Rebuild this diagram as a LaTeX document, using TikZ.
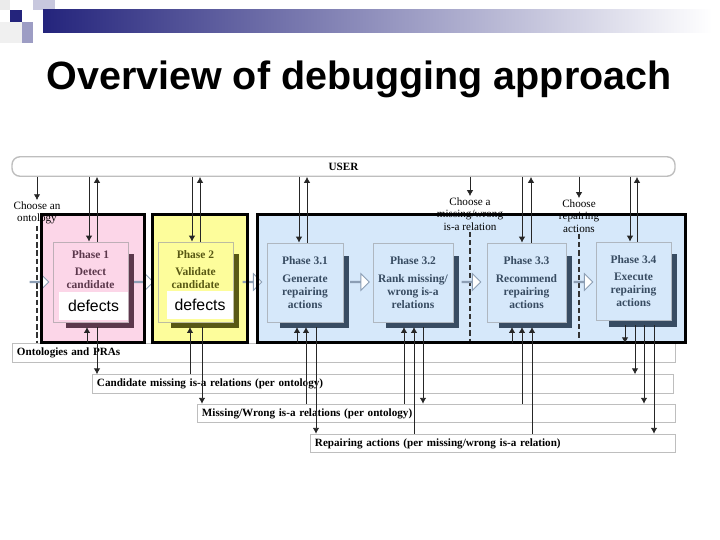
\documentclass[tikz,border=0pt]{standalone}
\usepackage{fontspec}
\setmainfont{Liberation Serif}
\newfontfamily\arialfont{Liberation Sans}
\usetikzlibrary{arrows.meta,shapes.arrows}

\definecolor{navy}{RGB}{36,36,124}
\definecolor{pinkbg}{RGB}{252,214,232}
\definecolor{yellowbg}{RGB}{253,253,155}
\definecolor{bluebg}{RGB}{214,232,250}
\definecolor{pinkdark}{RGB}{92,56,76}
\definecolor{olivedark}{RGB}{88,88,20}
\definecolor{slatedark}{RGB}{56,76,98}
\definecolor{storegray}{RGB}{190,190,190}
\definecolor{hollowgray}{RGB}{140,158,180}

\begin{document}
\begin{tikzpicture}[x=0.03cm, y=-0.03cm,
        >={Latex[length=5pt,width=5.5pt]}, line width=0.7pt,
        group/.style={fill=#1, inner sep=0pt, minimum height=3.81cm},
        frame/.style={draw=black, line width=2.2pt},
        phase/.style={draw=#1!40, text=#1, align=center, inner sep=0pt,
            font=\fontsize{9.8}{11}\selectfont\bfseries},
        phasetext/.style={text=#1, align=center, inner sep=0pt,
            font=\fontsize{9.8}{11}\selectfont\bfseries},
        defects/.style={fill=white, inner sep=0pt, minimum height=0.84cm,
            font=\arialfont\fontsize{13.5}{15}\selectfont},
        choose/.style={align=center, inner sep=1pt, font=\fontsize{9.5}{10.6}\selectfont},
        store/.style={draw=storegray, fill=white, text width=#1, align=left,
            inner xsep=0.15cm, inner ysep=0pt, minimum height=0.56cm,
            font=\fontsize{9.5}{11}\selectfont\bfseries},
        hollow/.style={single arrow, draw=hollowgray, fill=white, line width=0.8pt,
            inner sep=0pt, minimum width=0.5cm, minimum height=0.56cm,
            single arrow head extend=0.16cm},
        flow/.style={->, draw=black!85},
        cut/.style={draw=black!80, line width=1pt, dash pattern=on 4.5pt off 2.5pt}
    ]
    \useasboundingbox (0,0) rectangle (720,540);

    % header
    \fill[black!8!white] (0,0) rectangle (10,10);
    \fill[navy!25] (33,0) rectangle (55,10);
    \fill[navy] (10,10) rectangle (22,22);
    \fill[navy!40] (43,10) rectangle (55,22);
    \fill[black!6!white] (0,22) rectangle (22,43);
    \fill[navy!45] (22,22) rectangle (33,43);
    \shade[left color=navy, middle color=navy!35, right color=white] (43,10) rectangle (712,33);

    \node[anchor=base, font=\arialfont\bfseries\fontsize{33.7}{40}\selectfont] (title)
        at (359,90) {Overview of debugging approach};

    % user and data
    \node[draw=storegray, line width=1.2pt, rounded corners=0.24cm, minimum width=19.89cm,
        minimum height=0.585cm, inner sep=0pt, font=\fontsize{9.5}{11}\selectfont\bfseries]
        (user) at (343.5,166.5) {USER};

    \node[store=19.59cm] (ont)  at (343.5,353)   {Ontologies and PRAs};
    \node[store=17.13cm] (cand) at (382.5,384)   {Candidate missing is-a relations (per ontology)};
    \node[store=14.04cm] (mis)  at (436,413.5)   {Missing/Wrong is-a relations (per ontology)};
    \node[store=10.65cm] (rep)  at (492.5,443.5) {Repairing actions (per missing/wrong is-a relation)};

    % groups
    \node[group=pinkbg,   minimum width=3.06cm]  (g1) at (93,278.5)    {};
    \node[group=yellowbg, minimum width=2.82cm]  (g2) at (200,278.5)   {};
    \node[group=bluebg,   minimum width=12.81cm] (g3) at (471.5,278.5) {};

    \node[choose] (ch1) at (37,213)  {Choose an\\ontology};
    \node[choose] (ch2) at (470,214) {Choose a\\missing/wrong\\is-a relation};
    \node[choose] (ch3) at (579,216) {Choose\\repairing\\actions};

    \draw[cut] (ch1.south) -- (ch1.south |- ont.north);
    \draw[cut] (ch2.south) -- (ch2.south |- g3.south);
    \draw[cut] (ch3.south) -- (ch3.south |- g3.south);

    \node[hollow] (h1) at (39,282)    {};
    \node[hollow] (h2) at (143.5,282) {};
    \node[hollow] (h3) at (252,282)   {};
    \node[hollow] (h4) at (359.5,282) {};
    \node[hollow] (h5) at (471,282)   {};
    \node[hollow] (h6) at (583,282)   {};

    % shadows
    \fill[pinkdark]  (66,254)  rectangle (134,328);
    \fill[olivedark] (171,254) rectangle (239,328);
    \fill[slatedark] (280,256) rectangle (349,328);
    \fill[slatedark] (386,256) rectangle (459,328);
    \fill[slatedark] (499,256) rectangle (572,328);
    \fill[slatedark] (609,254) rectangle (677,327);

    % phases
    \node[phase=pinkdark, fill=pinkbg, minimum width=2.25cm, minimum height=2.4cm]
        (p1) at (90.5,282) {};
    \node[phase=olivedark, fill=yellowbg, minimum width=2.25cm, minimum height=2.4cm]
        (p2) at (195.5,282) {};
    \node[phasetext=pinkdark]  (t1) at (90.5,269.5)  {Phase 1\\[4pt]Detect\\candidate};
    \node[phasetext=olivedark] (t2) at (195.5,269.5) {Phase 2\\[4pt]Validate\\candidate};
    \node[defects, minimum width=2.07cm] (d1) at (93.5,306) {defects};
    \node[defects, minimum width=1.98cm] (d2) at (200,305)  {defects};

    \node[phase=slatedark, fill=bluebg, minimum width=2.28cm, minimum height=2.37cm]
        (p31) at (305,282.5) {Phase 3.1\\[4pt]Generate\\repairing\\actions};
    \node[phase=slatedark, fill=bluebg, minimum width=2.4cm, minimum height=2.37cm]
        (p32) at (413,282.5) {Phase 3.2\\[4pt]Rank missing/\\wrong is-a\\relations};
    \node[phase=slatedark, fill=bluebg, minimum width=2.37cm, minimum height=2.37cm]
        (p33) at (526.5,282.5) {Phase 3.3\\[4pt]Recommend\\repairing\\actions};
    \node[phase=slatedark, fill=bluebg, minimum width=2.25cm, minimum height=2.34cm]
        (p34) at (633.5,281) {Phase 3.4\\[4pt]Execute\\repairing\\actions};

    \draw[frame] (g1.north west) rectangle (g1.south east);
    \draw[frame] (g2.north west) rectangle (g2.south east);
    \draw[frame] (g3.north west) rectangle (g3.south east);

    % user
    \draw[flow] (ch1.north |- user.south) -- (ch1.north);
    \draw[flow] (ch2.north |- user.south) -- (ch2.north);
    \draw[flow] (ch3.north |- user.south) -- (ch3.north);
    \draw[flow] (89,0 |- user.south)  -- (89,0 |- p1.north);
    \draw[flow] (97,0 |- p1.north)    -- (97,0 |- user.south);
    \draw[flow] (192,0 |- user.south) -- (192,0 |- p2.north);
    \draw[flow] (200,0 |- p2.north)   -- (200,0 |- user.south);
    \draw[flow] (299,0 |- user.south) -- (299,0 |- p31.north);
    \draw[flow] (307,0 |- p31.north)  -- (307,0 |- user.south);
    \draw[flow] (522,0 |- user.south) -- (522,0 |- p33.north);
    \draw[flow] (531,0 |- p33.north)  -- (531,0 |- user.south);
    \draw[flow] (630,0 |- user.south) -- (630,0 |- p34.north);
    \draw[flow] (637,0 |- p34.north)  -- (637,0 |- user.south);

    % data
    \draw[flow, shorten >=4pt] (87,0 |- ont.north)   -- (87,0 |- p1.south);
    \draw[flow, shorten <=4pt] (97,0 |- p1.south)    -- (97,0 |- cand.north);
    \draw[flow, shorten >=4pt] (190,0 |- cand.north) -- (190,0 |- p2.south);
    \draw[flow, shorten <=4pt] (202,0 |- p2.south)   -- (202,0 |- mis.north);
    \draw[flow, shorten >=4pt] (297,0 |- ont.north)  -- (297,0 |- p31.south);
    \draw[flow, shorten >=4pt] (306,0 |- mis.north)  -- (306,0 |- p31.south);
    \draw[flow, shorten <=4pt] (316,0 |- p31.south)  -- (316,0 |- rep.north);
    \draw[flow, shorten >=4pt] (404,0 |- mis.north)  -- (404,0 |- p32.south);
    \draw[flow, shorten >=4pt] (414,0 |- rep.north)  -- (414,0 |- p32.south);
    \draw[flow, shorten <=4pt] (423,0 |- p32.south)  -- (423,0 |- mis.north);
    \foreach \xx/\st in {512/ont, 522/mis, 532/rep}
        \draw[flow, shorten >=4pt] (\xx,0 |- \st.north) -- (\xx,0 |- p33.south);
    \foreach \xx/\st in {625/ont, 635/cand, 644/mis, 654/rep}
        \draw[flow, shorten <=4pt] (\xx,0 |- p34.south) -- (\xx,0 |- \st.north);
\end{tikzpicture}
\end{document}
